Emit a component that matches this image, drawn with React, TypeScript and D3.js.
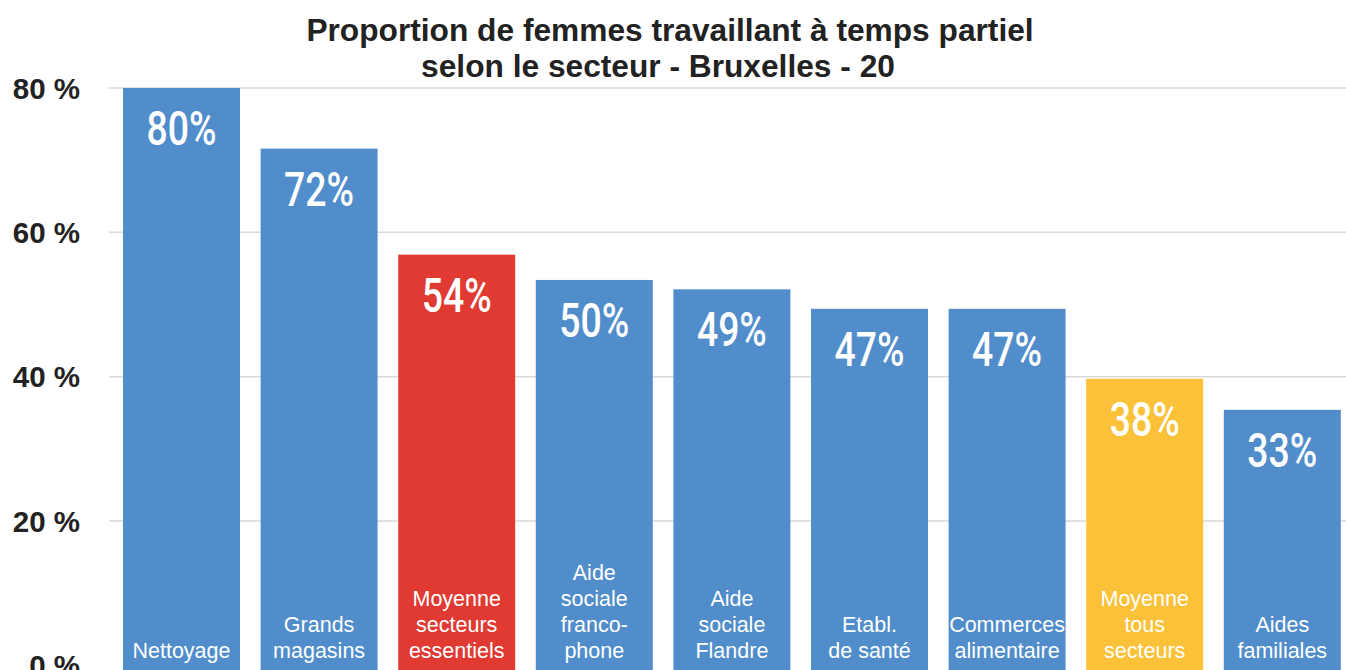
import React from "react";
import * as d3 from "d3";

const categories: string[][] = [
  ["Nettoyage"],
  ["Grands", "magasins"],
  ["Moyenne", "secteurs", "essentiels"],
  ["Aide", "sociale", "franco-", "phone"],
  ["Aide", "sociale", "Flandre"],
  ["Etabl.", "de santé"],
  ["Commerces", "alimentaire"],
  ["Moyenne", "tous", "secteurs"],
  ["Aides", "familiales"],
];
const values = [80, 71.6, 56.9, 53.4, 52.1, 49.4, 49.4, 39.7, 35.4];
const valueLabels = ["80%", "72%", "54%", "50%", "49%", "47%", "47%", "38%", "33%"];
const kinds = ["sector", "sector", "essential", "sector", "sector", "sector", "sector", "all", "sector"];
const yTicks = [0, 20, 40, 60, 80];
const titleLines = ["Proportion de femmes travaillant à temps partiel", "selon le secteur - Bruxelles - 20"];

const W = 1346;
const H = 670;
const colorOf: Record<string, string> = { sector: "#508DCA", essential: "#E03A33", all: "#FBC138" };

export default function App() {
  const x = d3
    .scaleBand<number>()
    .domain(d3.range(values.length))
    .range([112.7, 1351.1])
    .paddingInner(0.15)
    .paddingOuter(0.075);
  const y = d3.scaleLinear().domain([0, 80]).range([665.3, 88]);
  const bw = x.bandwidth();
  const titleX = [670, 658];
  return (
    <svg width={W} height={H} style={{ position: "absolute", left: 0, top: 0, background: "#fff" }}>
      {yTicks.filter((t) => t > 0).map((t) => (
        <line key={"g" + t} x1={109} x2={W} y1={y(t)} y2={y(t)} stroke="#d9d9d9" strokeWidth={1.5} />
      ))}
      {yTicks.map((t) => (
        <text
          key={"t" + t}
          x={80}
          y={y(t)}
          dy="0.36em"
          textAnchor="end"
          fontFamily="Liberation Sans, Arial, sans-serif"
          fontWeight="bold"
          fontSize={29.5}
          fill="#222"
        >
          {t} %
        </text>
      ))}
      {values.map((v, i) => {
        const x0 = x(i)!;
        const cx = x0 + bw / 2;
        const top = y(v);
        const lines = categories[i];
        return (
          <g key={i}>
            <rect x={x0} y={top} width={bw} height={H - top} fill={colorOf[kinds[i]]} />
            <text
              x={cx}
              y={top + 57}
              textAnchor="middle"
              fontFamily="Roboto, sans-serif"
              fontWeight={500}
              fontSize={49}
              fill="#fff"
              textLength={70}
              lengthAdjust="spacingAndGlyphs"
            >
              {valueLabels[i]}
            </text>
            {lines.map((l, j) => (
              <text
                key={j}
                x={cx}
                y={658 - (lines.length - 1 - j) * 26}
                textAnchor="middle"
                fontFamily="Liberation Sans, Arial, sans-serif"
                fontSize={21.5}
                fill="#fff"
              >
                {l}
              </text>
            ))}
          </g>
        );
      })}
      {titleLines.map((l, i) => (
        <text
          key={"h" + i}
          x={titleX[i]}
          y={41 + i * 36}
          textAnchor="middle"
          fontFamily="Liberation Sans, Arial, sans-serif"
          fontWeight="bold"
          fontSize={31.7}
          fill="#222"
        >
          {l}
        </text>
      ))}
    </svg>
  );
}
